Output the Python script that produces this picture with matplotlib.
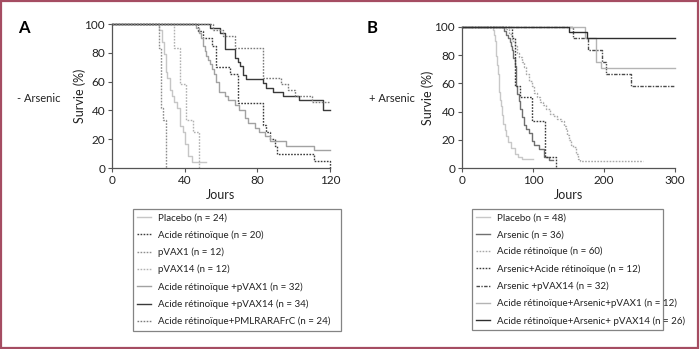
import matplotlib
matplotlib.use("Agg")
import matplotlib.pyplot as plt
from matplotlib.patches import Rectangle

plt.rcParams["font.family"] = ["Lato", "DejaVu Sans"]

# ---- panel A : without arsenic (days, survival %) ----
a_placebo_t = [0, 26, 27.3, 28.6, 29.5, 30.5, 32, 33, 34, 36, 37.4, 39.2, 40.2, 42, 44, 52]
a_placebo_s = [100, 95.8, 87.5, 79.2, 66.7, 62.5, 54.2, 50, 45.8, 41.7, 29.2, 25, 16.7, 8.3, 4.2, 4.2]

a_ar_t = [0, 47.5, 50, 55, 57, 65, 69.5, 83, 85, 87, 89.5, 91, 111, 120]
a_ar_s = [100, 95, 90, 85, 70, 65, 45, 30, 25, 20, 15, 10, 5, 0]

a_pvax1_t = [0, 26, 27, 28, 30]
a_pvax1_s = [100, 83.3, 41.7, 33.3, 0]

a_pvax14_t = [0, 34, 37.5, 41, 44.5, 48]
a_pvax14_s = [100, 83.3, 58.3, 33.3, 25, 0]

a_ar_pvax1_t = [0, 46, 48, 49, 50, 51, 52, 53, 54, 55, 56, 57, 59, 62, 64, 67.5,
                70, 73, 75, 78.5, 81, 84, 87, 96, 111, 120]
a_ar_pvax1_s = [100, 96.9, 93.8, 90.6, 84.4, 81.3, 78.1, 75, 71.9, 68.8, 65.6, 59.4,
                53.1, 50, 46.9, 43.8, 40.6, 34.4, 31.3, 28.1, 25, 21.9, 18.8, 15.6, 12.5, 12.5]

a_ar_pvax14_t = [0, 54, 59.5, 62, 67.5, 69.5, 70.5, 72, 74, 83, 85, 88.5, 94, 103, 116, 120]
a_ar_pvax14_s = [100, 97.1, 94.1, 82.4, 76.5, 73.5, 70.6, 64.7, 61.8, 58.8, 55.9, 52.9,
                 50, 47.1, 40, 40]

a_pml_t = [0, 55.5, 61, 67.5, 83, 93, 97, 101, 110, 120]
a_pml_s = [100, 95.8, 91.7, 83.3, 62.5, 58.3, 54.2, 50, 45.8, 45.8]

a_labels = ["Placebo (n = 24)", "Acide rétinoïque (n = 20)", "pVAX1 (n = 12)",
            "pVAX14 (n = 12)", "Acide rétinoïque +pVAX1 (n = 32)",
            "Acide rétinoïque +pVAX14 (n = 34)", "Acide rétinoïque+PMLRARAFrC (n = 24)"]

# ---- panel B : with arsenic ----
b_placebo_t = [0, 44, 45.5, 46.5, 47.5, 48.5, 49.5, 50.5, 51.5, 52.5, 53.5, 55, 56.5,
               58, 60, 62.5, 65, 69.5, 74, 79, 84, 100]
b_placebo_s = [100, 97.9, 93.8, 89.6, 85.4, 79.2, 72.9, 66.7, 60.4, 54.2, 47.9, 43.8,
               37.5, 31.3, 27.1, 22.9, 18.8, 14.6, 10.4, 8.3, 6.3, 6.3]

b_arsenic_t = [0, 59, 62, 65, 67, 69, 71, 72, 74, 76, 78, 80, 82, 84, 87, 90, 94, 98,
               102, 108, 115, 122, 128]
b_arsenic_s = [100, 97.2, 94.4, 91.7, 88.9, 86.1, 83.3, 77.8, 72.2, 58.3, 52.8, 47.2,
               41.7, 36.1, 30.6, 27.8, 25, 19.4, 16.7, 13.9, 8.3, 5.6, 5.6]

b_ar_t = [0, 62, 66, 70, 74, 77, 80, 84, 87, 90, 94, 98, 102, 106, 110, 114, 119, 124,
          129, 134, 139, 143, 146, 148, 150, 153, 156, 160, 163, 166, 255]
b_ar_s = [100, 98.3, 95, 90, 86.7, 81.7, 78.3, 75, 71.7, 66.7, 61.7, 58.3, 53.3, 50,
          46.7, 45, 41.7, 38.3, 36.7, 35, 33.3, 30, 26.7, 23.3, 20, 16.7, 15, 10, 6.7, 5, 5]

b_as_ar_t = [0, 70, 74.5, 82, 98, 116.5, 133]
b_as_ar_s = [100, 91.7, 58.3, 50, 33.3, 8.3, 0]

b_as_pvax14_t = [0, 156, 177, 196.5, 203.5, 238.5, 300]
b_as_pvax14_s = [100, 91.7, 83.3, 75, 66.7, 58.3, 58.3]

b_ar_as_pvax1_t = [0, 173, 189, 195.5, 300]
b_ar_as_pvax1_s = [100, 91.7, 75, 70.6, 70.6]

b_ar_as_pvax14_t = [0, 151, 176, 300]
b_ar_as_pvax14_s = [100, 96.2, 92.3, 92.3]

b_labels = ["Placebo (n = 48)", "Arsenic (n = 36)", "Acide rétinoïque (n = 60)",
            "Arsenic+Acide rétinoïque (n = 12)", "Arsenic +pVAX14 (n = 32)",
            "Acide rétinoïque+Arsenic+pVAX1 (n = 12)",
            "Acide rétinoïque+Arsenic+ pVAX14 (n = 26)"]

DOT = (0, (1.2, 1.0))
DASHDOT = (0, (2.5, 1.0, 1.0, 1.0))

fig = plt.figure(figsize=(7, 3.49), dpi=100)
ax_a = fig.add_axes([0.16, 0.5186, 0.3114, 0.4126])
ax_b = fig.add_axes([0.66, 0.5178, 0.3043, 0.4057])


def km(ax, t, s, color, ls="-", lw=1.0):
    return ax.step(t, s, where="post", color=color, linestyle=ls, lw=lw, clip_on=False)[0]


a_lines = [
    km(ax_a, a_placebo_t, a_placebo_s, "#c6c6c6"),
    km(ax_a, a_ar_t, a_ar_s, "#3c3c3c", DOT),
    km(ax_a, a_pvax1_t, a_pvax1_s, "#8e8e8e", DOT),
    km(ax_a, a_pvax14_t, a_pvax14_s, "#b2b2b2", DOT),
    km(ax_a, a_ar_pvax1_t, a_ar_pvax1_s, "#a2a2a2"),
    km(ax_a, a_ar_pvax14_t, a_ar_pvax14_s, "#3a3a3a"),
    km(ax_a, a_pml_t, a_pml_s, "#7c7c7c", DOT),
]

b_lines = [
    km(ax_b, b_placebo_t, b_placebo_s, "#c8c8c8"),
    km(ax_b, b_arsenic_t, b_arsenic_s, "#707070"),
    km(ax_b, b_ar_t, b_ar_s, "#a8a8a8", DOT),
    km(ax_b, b_as_ar_t, b_as_ar_s, "#3a3a3a", DOT),
    km(ax_b, b_as_pvax14_t, b_as_pvax14_s, "#4a4a4a", DASHDOT),
    km(ax_b, b_ar_as_pvax1_t, b_ar_as_pvax1_s, "#b4b4b4"),
    km(ax_b, b_ar_as_pvax14_t, b_ar_as_pvax14_s, "#2e2e2e"),
]

for ax, xmax, xticks, ylab_x in [(ax_a, 120, [0, 40, 80, 120], -0.12),
                                 (ax_b, 300, [0, 100, 200, 300], -0.13)]:
    ax.set_xlim(0, xmax)
    ax.set_ylim(0, 100)
    ax.set_xticks(xticks)
    ax.set_yticks([0, 20, 40, 60, 80, 100])
    for side in ["top", "right"]:
        ax.spines[side].set_visible(False)
    for side in ["left", "bottom"]:
        ax.spines[side].set_color("#555555")
        ax.spines[side].set_linewidth(0.9)
    ax.tick_params(length=3, width=0.8, color="#555555", labelsize=8.5, pad=2,
                   labelcolor="#222222")
    ax.set_xlabel("Jours", fontsize=9, color="#222222", labelpad=2)
    ax.set_ylabel("Survie (%)", fontsize=9, color="#222222")
    ax.yaxis.set_label_coords(ylab_x, 0.5)

fig.text(24 / 700, 1 - 28 / 349, "A", fontsize=12, fontweight="bold", ha="center", va="center")
fig.text(372 / 700, 1 - 28 / 349, "B", fontsize=12, fontweight="bold", ha="center", va="center")
fig.text(17 / 700, 1 - 98 / 349, "- Arsenic", fontsize=8, ha="left", va="center", color="#222222")
fig.text(369 / 700, 1 - 99 / 349, "+ Arsenic", fontsize=8, ha="left", va="center", color="#222222")

legend_kw = dict(loc="upper left", mode="expand", bbox_transform=fig.transFigure,
                 fontsize=7, frameon=True, fancybox=False, borderaxespad=0,
                 handlelength=1.4, handletextpad=0.7, labelspacing=0.8, borderpad=0.45)
leg_a = ax_a.legend(a_lines, a_labels, bbox_to_anchor=(133 / 700, 0.05, 208 / 700, 1 - 209 / 349 - 0.05),
                    **legend_kw)
leg_b = ax_b.legend(b_lines, b_labels, bbox_to_anchor=(472 / 700, 0.05, 191 / 700, 1 - 209 / 349 - 0.05),
                    **legend_kw)
for leg in (leg_a, leg_b):
    leg.get_frame().set_edgecolor("#666666")
    leg.get_frame().set_linewidth(0.9)
    for txt in leg.get_texts():
        txt.set_color("#222222")

fig.add_artist(Rectangle((0.0015, 0.003), 0.995, 0.993, transform=fig.transFigure,
                         fill=False, edgecolor="#a54d62", lw=1.6))

fig.savefig("out.png", dpi=100)
